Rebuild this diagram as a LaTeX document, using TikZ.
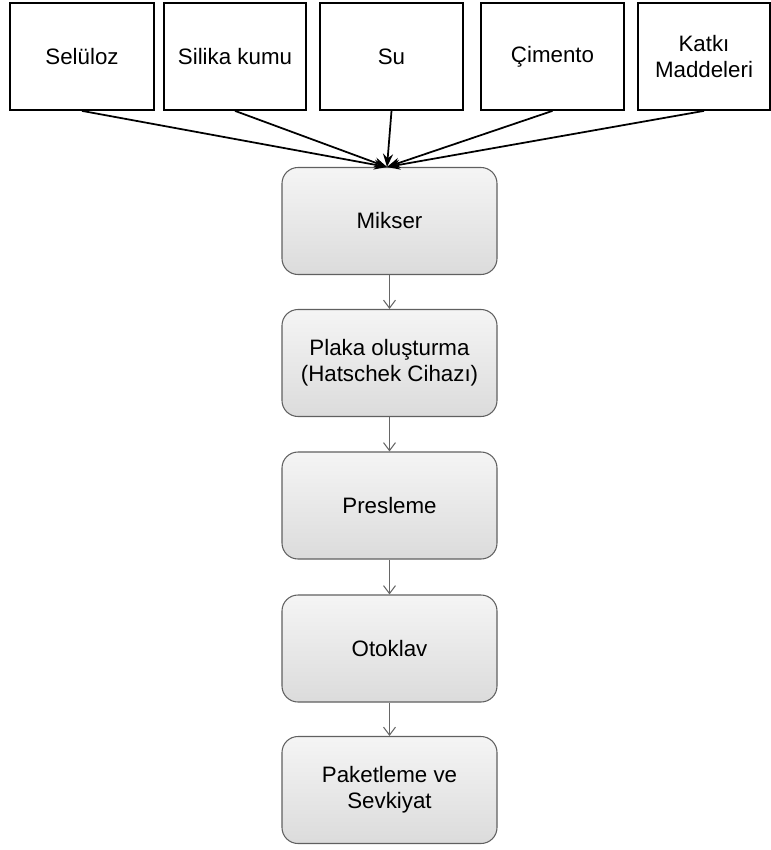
\documentclass[tikz,border=0pt]{standalone}
\usepackage{fontspec}
\setmainfont{Liberation Sans}
\usetikzlibrary{arrows.meta}
\tikzset{
  girdi/.style={draw=black, line width=1pt, minimum height=2.14cm, inner sep=2pt,
    align=center, font=\fontsize{12.7}{14.8}\selectfont},
  asama/.style={draw=gray!75!black, line width=0.6pt, rounded corners=0.32cm,
    top color=gray!8, bottom color=gray!28, minimum width=4.3cm, minimum height=2.14cm,
    align=center, font=\fontsize{12.7}{14.8}\selectfont},
  giris/.style={line width=1pt, -{Stealth[length=2.6mm,width=2mm]}},
  akis/.style={draw=gray!80!black, line width=0.6pt, -{Straight Barb[length=1.6mm,width=2.4mm]}}
}
\begin{document}
\begin{tikzpicture}
  \useasboundingbox (0,0) rectangle (15.42,-17);
  % hammaddeler
  \node[girdi, minimum width=2.88cm] (seluloz) at (1.64,-1.13) {Selüloz};
  \node[girdi, minimum width=2.84cm] (silika) at (4.70,-1.13) {Silika kumu};
  \node[girdi, minimum width=2.86cm] (su) at (7.83,-1.13) {Su};
  \node[girdi, minimum width=2.86cm] (cimento) at (11.05,-1.13) {Çimento};
  \node[girdi, minimum width=2.64cm] (katki) at (14.08,-1.13) {Katkı\\Maddeleri};
  % uretim asamalari
  \node[asama] (mikser) at (7.79,-4.42) {Mikser};
  \node[asama] (plaka) at (7.79,-7.26) {Plaka oluşturma\\(Hatschek Cihazı)};
  \node[asama] (presleme) at (7.79,-10.11) {Presleme};
  \node[asama] (otoklav) at (7.79,-12.97) {Otoklav};
  \node[asama] (paket) at (7.79,-15.8) {Paketleme ve\\Sevkiyat};
  \coordinate (birlesme) at ([xshift=-0.05cm]mikser.north);
  \foreach \g in {seluloz,silika,su,cimento,katki}
    \draw[giris] (\g.south) -- (birlesme);
  \draw[akis] (mikser) -- (plaka);
  \draw[akis] (plaka) -- (presleme);
  \draw[akis] (presleme) -- (otoklav);
  \draw[akis] (otoklav) -- (paket);
\end{tikzpicture}
\end{document}
